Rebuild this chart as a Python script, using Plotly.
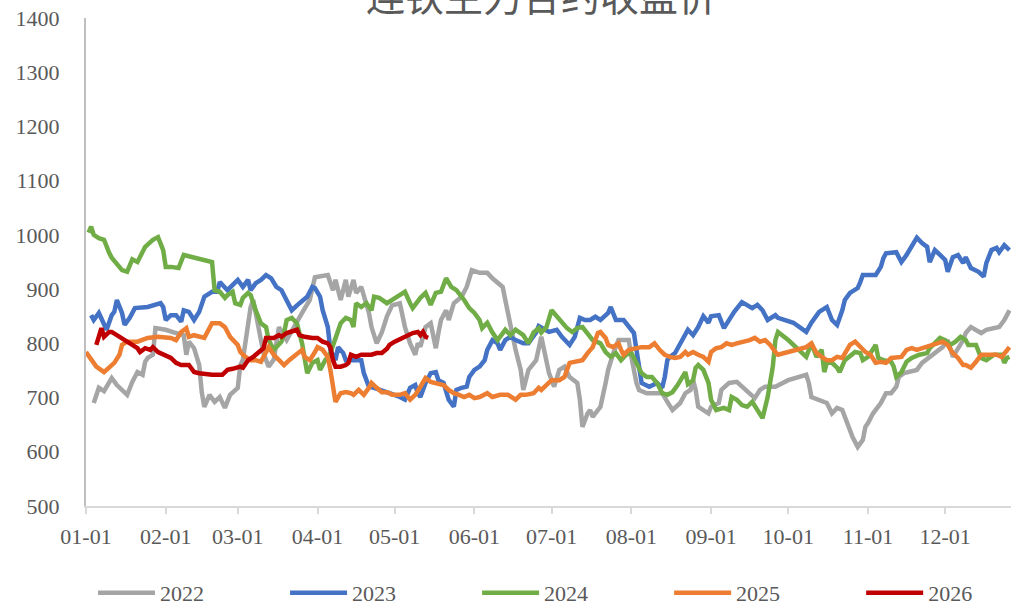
import pandas as pd
import plotly.graph_objects as go

# ---- data (day offset from Jan 1, closing price) ----
years = ["2022", "2023", "2024", "2025", "2026"]
colors = ["#A5A5A5", "#4472C4", "#70AD47", "#ED7D31", "#C00000"]

d2022 = [3,5,7,9,10,12,16,18,20,22,23,24,26,27,31,35,38,39,40,42,44,45,46,48,50,52,54,56,59,60,
         61,64,65,69,71,73,75,78,82,84,87,89,94,96,97,99,101,102,104,105,107,110,111,113,115,117,119,122,
         124,126,128,129,130,132,134,135,136,137,138,140,141,143,146,148,150,153,156,158,162,163,165,167,
         169,170,172,174,175,177,180,182,184,186,188,191,192,193,195,196,197,198,200,202,203,205,207,211,
         212,214,215,218,222,224,226,228,231,233,235,236,237,238,240,242,243,246,247,250,253,255,258,260,
         262,264,268,273,280,281,282,285,288,290,292,294,296,298,300,302,303,304,306,309,311,313,315,316,
         318,323,325,328,330,333,335,337,341,342,344,346,348,350,353,355,357,359]
v2022 = [690,718,712,729,736,723,705,729,747,742,766,773,779,828,825,819,815,779,803,791,760,710,683,705,692,701,681,705,718,760,
         770,867,880,782,757,770,830,806,837,856,880,922,926,898,917,880,917,886,917,893,904,856,830,800,820,850,870,874,
         830,800,779,800,794,830,837,811,791,819,843,861,843,874,886,904,935,930,930,920,904,880,830,788,
         751,714,751,764,769,812,745,720,751,757,738,727,696,646,671,677,664,671,683,727,751,782,806,806,
         775,727,714,708,708,708,692,677,690,708,714,732,714,683,677,671,683,690,714,727,729,720,708,699,
         714,720,720,732,742,727,701,696,690,671,681,677,653,627,609,622,646,653,671,690,708,708,720,738,
         745,751,764,775,782,793,806,775,806,819,830,825,819,825,828,830,843,861]

d2023 = [2,3,5,7,8,10,11,12,14,15,17,19,24,29,30,31,33,35,37,38,40,42,44,46,49,51,52,55,57,59,
         61,63,64,66,68,70,72,74,76,78,80,83,86,88,89,91,92,94,95,97,98,100,101,104,107,108,110,112,115,118,
         122,124,126,128,129,130,132,134,136,137,139,140,141,143,144,146,148,149,151,153,155,156,158,160,161,
         163,165,167,170,172,175,176,180,183,185,188,190,192,194,196,198,200,203,204,206,209,211,213,214,215,
         216,219,222,224,225,226,227,229,231,233,234,236,238,240,242,243,246,248,250,252,255,257,259,261,263,
         265,268,269,275,280,282,285,288,290,292,294,295,297,300,301,302,307,309,310,311,315,317,319,321,323,
         325,327,328,330,332,334,335,337,339,341,342,344,347,349,350,352,354,355,357,358,359]
v2023 = [852,843,856,834,825,852,858,880,856,834,847,865,867,874,867,843,852,852,840,861,858,843,858,886,895,895,913,898,907,917,
         904,917,898,911,917,926,920,904,898,880,861,874,886,904,902,886,861,830,788,769,793,782,769,769,769,745,720,718,714,708,
         701,696,718,723,708,701,727,745,747,732,727,708,696,683,714,718,720,738,751,757,769,788,806,800,788,
         806,812,806,800,800,820,832,821,825,812,797,812,847,843,843,849,843,856,867,843,843,830,819,788,757,
         727,720,727,718,738,769,775,782,800,819,825,815,830,850,838,850,852,828,843,858,876,871,865,871,861,
         843,852,847,838,821,838,858,867,843,834,861,880,893,902,913,926,926,941,957,966,968,950,963,978,995,
         985,978,950,972,963,954,932,959,963,948,959,939,932,923,948,972,976,968,981,976,972]

d2024 = [1,2,3,5,7,8,9,10,12,14,16,18,20,23,26,28,30,31,33,36,38,42,49,50,52,54,55,57,58,60,
         61,63,64,66,68,70,71,73,74,76,77,78,80,82,84,85,86,88,90,91,93,95,97,99,101,103,104,105,107,109,111,112,
         114,117,121,124,126,127,130,132,134,136,138,140,142,144,147,149,151,153,154,156,158,160,163,165,167,170,
         172,174,176,177,179,181,183,185,187,189,191,193,195,197,200,202,204,206,208,210,212,214,216,218,220,222,
         224,226,228,230,232,233,234,236,237,238,240,242,243,245,248,250,251,253,255,257,259,261,263,265,267,268,
         269,273,277,280,282,284,286,287,288,290,292,293,295,296,299,301,302,304,306,307,308,310,313,314,315,317,
         319,321,324,327,328,330,332,334,336,338,340,342,343,346,348,350,353,356,357,358,359]
v2024 = [1004,1015,1000,994,991,976,967,958,945,935,932,955,950,978,991,996,972,941,941,939,963,959,950,898,895,884,889,895,874,871,
         884,893,889,861,837,830,806,788,793,803,819,843,847,837,800,769,745,764,769,751,769,782,812,837,847,843,830,874,867,874,861,886,
         884,874,886,895,874,865,884,893,871,893,895,920,904,898,880,865,856,843,828,838,820,806,825,815,825,815,
         800,820,828,820,830,861,850,838,828,821,828,830,819,806,800,784,775,782,769,779,782,764,745,738,738,727,
         708,705,710,723,738,747,725,732,755,760,751,727,696,677,681,677,701,696,686,683,692,677,662,701,757,806,
         821,806,788,775,800,775,788,747,764,764,755,747,769,773,784,782,769,775,791,797,773,769,766,757,738,747,
         766,773,779,782,791,800,810,806,797,803,812,806,797,797,773,769,779,779,764,773,775]

d2025 = [0,2,4,7,9,11,13,14,16,20,24,28,33,35,37,39,40,42,46,47,49,52,54,56,59,60,
         62,64,66,68,70,71,73,75,77,79,82,84,85,87,89,90,92,94,95,96,97,99,101,103,104,106,108,110,111,113,115,117,
         119,122,124,126,128,130,132,134,136,139,141,143,145,147,149,151,153,156,158,161,164,167,169,171,174,176,
         177,179,181,184,186,188,191,193,195,197,199,200,202,203,205,207,208,209,211,214,216,219,221,223,225,227,
         229,231,233,234,236,238,240,242,243,245,247,249,251,253,256,258,260,262,264,266,268,269,273,277,280,282,
         284,286,288,290,292,294,295,297,299,301,303,305,307,309,311,313,315,317,319,321,323,325,328,330,333,335,
         337,339,341,342,344,346,348,351,354,356,358,359]
v2025 = [784,769,757,747,757,764,779,797,803,803,810,812,810,806,821,828,812,815,810,819,837,837,830,812,797,784,
         775,769,769,766,782,793,779,769,760,769,779,788,775,769,784,793,788,775,751,714,692,708,710,708,705,714,705,718,727,718,710,710,
         705,705,708,696,705,720,736,729,727,723,714,708,705,701,705,699,701,708,701,705,705,696,705,705,708,718,
         714,723,732,732,738,764,766,769,782,793,819,821,810,797,793,800,788,779,788,791,793,793,800,788,779,775,
         773,775,784,779,784,779,775,766,784,791,793,800,797,800,803,806,810,803,806,797,784,779,784,788,793,800,
         782,775,769,769,775,773,782,797,803,793,784,779,764,766,764,773,773,775,788,791,788,791,797,800,803,797,
         782,773,760,760,755,766,779,779,779,775,788,793]

d2026 = [4,6,7,9,10,12,15,18,20,21,23,25,26,28,30,33,35,37,40,42,44,49,53,55,57,60,61,63,65,67,69,70,
         73,75,76,78,80,82,83,85,88,90,92,94,95,96,97,99,101,102,103,105,107,109,111,113,115,117,118,120,
         123,125,127,129,130,131,132,133]
v2026 = [797,828,812,821,821,815,806,797,791,784,791,788,793,784,779,773,764,760,760,747,745,742,742,751,753,757,755,769,775,782,791,810,
         810,815,812,819,821,825,815,812,810,810,803,800,793,769,757,757,760,764,779,775,779,779,779,782,782,790,797,803,
         810,815,819,821,815,821,812,810]

tick_labels = ["01-01", "02-01", "03-01", "04-01", "05-01", "06-01",
               "07-01", "08-01", "09-01", "10-01", "11-01", "12-01"]
title_text = "连铁主力合约收盘价"

SERIF = "Liberation Serif, Times New Roman, DejaVu Serif, serif"
GREY_TXT = "#595959"

base = pd.Timestamp("2021-01-01")
def to_dates(days):
    return [base + pd.Timedelta(days=int(d)) for d in days]

series_days = [d2022, d2023, d2024, d2025, d2026]
series_vals = [v2022, v2023, v2024, v2025, v2026]

fig = go.Figure()
legend_layouts = {}
for i, (name, col, dd, vv) in enumerate(zip(years, colors, series_days, series_vals)):
    lg = "legend" if i == 0 else f"legend{i + 1}"
    fig.add_trace(go.Scatter(x=to_dates(dd), y=vv, mode="lines", name=name,
                             line=dict(color=col, width=4.5), legend=lg))
    legend_layouts[lg] = dict(orientation="h", x=0.0076 + 0.2076 * i, xanchor="left",
                              y=-0.178, yanchor="middle", bgcolor="rgba(0,0,0,0)",
                              font=dict(family=SERIF, size=22, color=GREY_TXT),
                              itemwidth=57)

tickvals = [pd.Timestamp(f"2021-{i:02d}-01") for i in range(1, 13)]

fig.update_layout(
    width=1011, height=605,
    margin=dict(l=86, r=0, t=18, b=99, autoexpand=False),
    paper_bgcolor="white", plot_bgcolor="white",
    font=dict(family=SERIF, size=22, color=GREY_TXT),
    showlegend=True,
    annotations=[dict(text=title_text, xref="paper", yref="paper", x=0.492, y=1.050,
                      xanchor="center", yanchor="middle", showarrow=False,
                      font=dict(family="Noto Sans CJK SC", size=39, color=GREY_TXT))],
    **legend_layouts,
)
fig.update_xaxes(type="date", range=[base, base + pd.Timedelta(days=359.6)],
                 tickvals=tickvals, ticktext=tick_labels,
                 showgrid=False, zeroline=False, showline=True, linecolor="#D9D9D9", linewidth=2,
                 ticks="outside", ticklen=6, tickcolor="#D9D9D9", tickwidth=1.5,
                 ticklabelstandoff=4,
                 tickfont=dict(family=SERIF, size=22, color=GREY_TXT))
fig.update_yaxes(range=[500, 1400], dtick=100, showgrid=False, zeroline=False,
                 showline=True, linecolor="#BFBFBF", linewidth=2, ticks="",
                 ticklabelstandoff=20, ticklabeloverflow="allow",
                 tickfont=dict(family=SERIF, size=22, color=GREY_TXT))

# remove the default page margin so the 1011x605 figure fills the window exactly
fig.write_html("out.html",
               config={"displayModeBar": False},
               post_script="document.body.style.margin='0';document.body.style.overflow='hidden';")
